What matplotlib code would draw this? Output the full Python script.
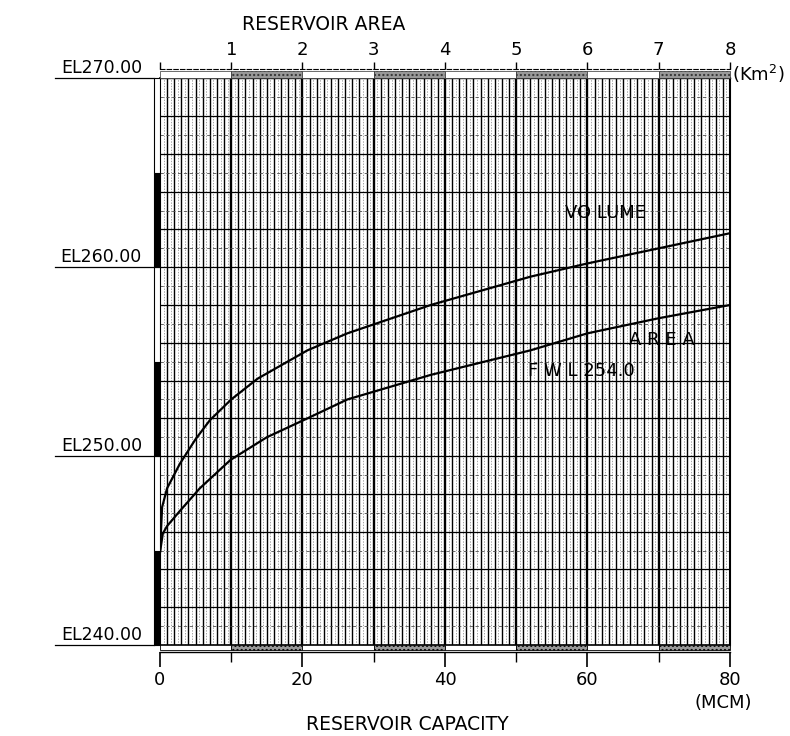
import numpy as np
import matplotlib.pyplot as plt
import matplotlib.transforms as mtransforms
from matplotlib.patches import Rectangle

# reservoir capacity (MCM) against water level (m)
capacity_mcm = [0, 0.3, 1.0, 2.8, 5.0, 7.0, 10.0, 13.7, 20.7, 26.3, 38.0, 52.0, 60.0, 70.0, 80.0]
capacity_el = [244.9, 247.3, 248.3, 249.6, 250.9, 251.9, 253.0, 254.1, 255.6, 256.5, 258.0, 259.5, 260.2, 261.0, 261.8]

# reservoir area (km2) against water level (m)
area_km2 = [0, 0.02, 0.04, 0.1, 0.28, 0.56, 0.99, 1.5, 2.07, 2.63, 3.8, 5.2, 6.0, 7.0, 8.0]
area_el = [244.9, 245.4, 245.9, 246.3, 247.1, 248.3, 249.8, 251.0, 252.0, 253.0, 254.3, 255.6, 256.5, 257.3, 258.0]

el_levels = [240, 250, 260, 270]
el_labels = ['EL240.00', 'EL250.00', 'EL260.00', 'EL270.00']
cap_ticks = [0, 20, 40, 60, 80]
area_ticks = [0, 1, 2, 3, 4, 5, 6, 7, 8]

fs = 13
fig = plt.figure(figsize=(7.9, 7.36), dpi=100)
ax = fig.add_axes([0.2025, 0.1236, 0.7215, 0.770])
ax.set_xlim(0, 80)
ax.set_ylim(240, 270)

# graph paper
for v in np.arange(0.5, 80, 1):
    ax.axvline(v, color='0.5', lw=0.5, ls=(0, (2, 2)), zorder=1)
for v in range(1, 80):
    ax.axvline(v, color='k', lw=1.7 if v % 10 == 0 else 1.0, zorder=1)
for h in range(241, 270):
    if h % 2 == 0:
        ax.axhline(h, color='k', lw=0.9, zorder=1)
    else:
        ax.axhline(h, color='0.3', lw=0.6, ls=(0, (4, 3)), zorder=1)
ax.axhline(240, color='k', lw=1.2, zorder=2)

ax.plot(capacity_mcm, capacity_el, color='k', lw=1.6, zorder=3)

ax.set_yticks([])
ax.spines['left'].set_linewidth(1.2)
ax.spines['right'].set_linewidth(1.5)
ax.spines['top'].set_linewidth(1.0)
ax.spines['bottom'].set_position(('outward', 5))
ax.spines['bottom'].set_linewidth(1.0)
ax.set_xticks(cap_ticks)
ax.set_xticklabels([str(t) for t in cap_ticks])
ax.set_xticks([10, 30, 50, 70], minor=True)
ax.tick_params(axis='x', which='major', length=11, width=1.2, pad=3, labelsize=fs)
ax.tick_params(axis='x', which='minor', length=7, width=1.0)

# scale strips along the edges
bx = mtransforms.blended_transform_factory(ax.transData, ax.transAxes)
sh = 5 / 567
for k in range(8):
    ax.add_patch(Rectangle((k * 10, -sh), 10, sh, transform=bx, clip_on=False,
                           facecolor='0.6' if k % 2 else 'white', edgecolor='k',
                           hatch='....' if k % 2 else None, lw=0.6, zorder=4))
by = mtransforms.blended_transform_factory(ax.transAxes, ax.transData)
sw = 6 / 570
for k in range(6):
    ax.add_patch(Rectangle((-sw, 240 + 5 * k), sw, 5, transform=by, clip_on=False,
                           facecolor='k' if k % 2 == 0 else 'white', edgecolor='k',
                           lw=0.8, zorder=4))

# elevation labels with underline
for lv, lab in zip(el_levels, el_labels):
    ax.text(-0.0316, lv + 0.08, lab, transform=by, ha='right', va='bottom', fontsize=12.5)
    ax.plot([-0.185, -sw], [lv, lv], transform=by, color='k', lw=0.9, clip_on=False)

# area axis on top
ax2 = ax.twiny()
ax2.set_xlim(0, 8)
ax2.plot(area_km2, area_el, color='k', lw=1.6, zorder=3)
ax2.set_xticks(area_ticks)
ax2.set_xticklabels([''] + [str(t) for t in area_ticks[1:]])
ax2.spines['top'].set_position(('outward', 7))
ax2.spines['top'].set_linestyle((0, (4, 2)))
ax2.tick_params(axis='x', length=5, width=1.0, pad=2, labelsize=fs)
for s in ['left', 'right', 'bottom']:
    ax2.spines[s].set_visible(False)
tx = mtransforms.blended_transform_factory(ax2.transData, ax2.transAxes)
th = 7 / 567
for k in range(8):
    ax2.add_patch(Rectangle((k, 1), 1, th, transform=tx, clip_on=False,
                            facecolor='0.6' if k % 2 else 'white', edgecolor='0.2',
                            hatch='....' if k % 2 else None, lw=0.5, zorder=4))

ax.text(62.6, 262.4, 'VO LUME', fontsize=fs, ha='center', va='bottom')
ax.text(70.5, 255.65, 'A R E A', fontsize=fs, ha='center', va='bottom')
ax.text(59.2, 254.05, 'F W L 254.0', fontsize=fs, ha='center', va='bottom')

fig.text(1.004, 1.007, '(Km$^2$)', transform=ax2.transAxes, fontsize=fs, ha='left', va='center')
fig.text(0.989, -0.102, '(MCM)', transform=ax.transAxes, fontsize=fs, ha='center', va='center')
fig.text(0.41, 0.967, 'RESERVOIR AREA', fontsize=13.5, ha='center', va='center')
fig.text(0.516, 0.015, 'RESERVOIR CAPACITY', fontsize=13.5, ha='center', va='center')

fig.savefig('out.png', dpi=100)
